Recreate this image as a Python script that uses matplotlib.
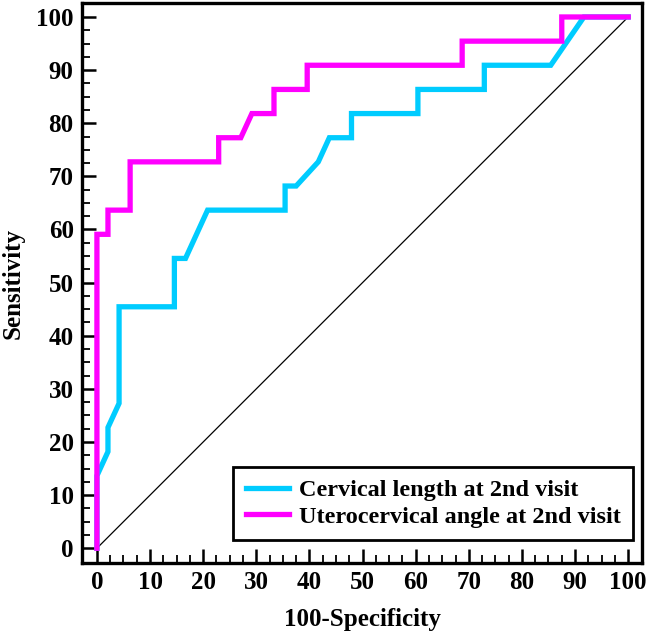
import numpy as np
import matplotlib.pyplot as plt

# ROC points (100-Specificity, Sensitivity)
cl_fpr = [0, 0, 2.08, 2.08, 4.17, 4.17, 14.58, 14.58, 16.67, 20.83, 35.42, 35.42, 37.5,
          41.67, 43.75, 47.92, 47.92, 60.42, 60.42, 72.92, 72.92, 85.42, 91.67, 100]
cl_tpr = [0, 13.64, 18.18, 22.73, 27.27, 45.45, 45.45, 54.55, 54.55, 63.64, 63.64, 68.18, 68.18,
          72.73, 77.27, 77.27, 81.82, 81.82, 86.36, 86.36, 90.91, 90.91, 100, 100]

uca_fpr = [0, 0, 2.08, 2.08, 6.25, 6.25, 22.92, 22.92, 27.08, 29.17, 33.33, 33.33, 39.58,
           39.58, 68.75, 68.75, 87.5, 87.5, 100]
uca_tpr = [0, 59.09, 59.09, 63.64, 63.64, 72.73, 72.73, 77.27, 77.27, 81.82, 81.82, 86.36, 86.36,
           90.91, 90.91, 95.45, 95.45, 100, 100]

labels = ["Cervical length at 2nd visit", "Uterocervical angle at 2nd visit"]
colors = ["#00CCFF", "#FF00FF"]

plt.rcParams["font.family"] = ["Liberation Serif", "DejaVu Serif"]
plt.rcParams["font.weight"] = "bold"

fig = plt.figure(figsize=(6.46, 6.32), dpi=100)
ax = fig.add_axes([0.127, 0.109, 0.8668, 0.886])

ax.plot([0, 100], [0, 100], color="black", linewidth=0.9, zorder=1)
ax.plot(cl_fpr, cl_tpr, color=colors[0], linewidth=3.8, label=labels[0],
        solid_joinstyle="miter", zorder=2)
ax.plot(uca_fpr, uca_tpr, color=colors[1], linewidth=3.8, label=labels[1],
        solid_joinstyle="miter", zorder=3)

ax.set_xlim(-2.8, 102.6)
ax.set_ylim(-2.8, 102.6)
ax.set_xticks(np.arange(0, 101, 10))
ax.set_yticks(np.arange(0, 101, 10))
ax.set_xticks(np.arange(0, 101, 2.5), minor=True)
ax.set_yticks(np.arange(0, 101, 2.5), minor=True)
ax.tick_params(which="major", direction="in", length=10, width=1.8, labelsize=18, pad=6)
ax.tick_params(which="minor", direction="in", length=5.5, width=1.3)
ax.tick_params(top=False, right=False, which="both")
for sp in ax.spines.values():
    sp.set_linewidth(2.4)

ax.set_xlabel("100-Specificity", fontsize=18, fontweight="bold", labelpad=10)
ax.set_ylabel("Sensitivity", fontsize=18, fontweight="bold", labelpad=8)

leg = ax.legend(loc="lower right", bbox_to_anchor=(0.984, 0.041), borderaxespad=0,
                fontsize=17.5, handlelength=1.8, handletextpad=0.4, fancybox=False,
                edgecolor="black", framealpha=1, borderpad=0.5, labelspacing=0.2)
leg.get_frame().set_linewidth(2.0)

fig.savefig("out.png", dpi=100)
